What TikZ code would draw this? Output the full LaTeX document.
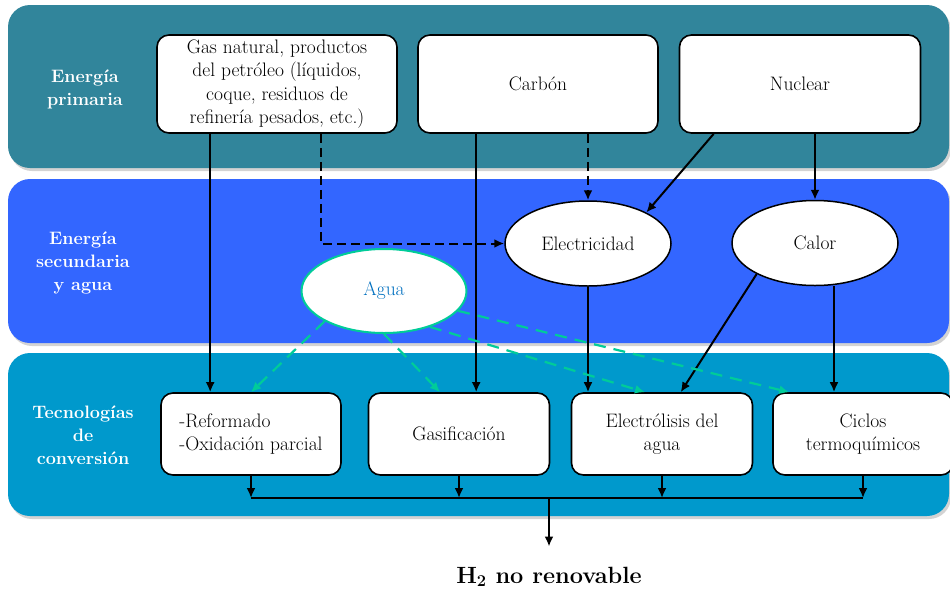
\documentclass[tikz,border=0pt]{standalone}
\usepackage{tikz}
\usetikzlibrary{arrows.meta}
\usetikzlibrary{shapes.geometric}
\usetikzlibrary{shadows}

\definecolor{primcol}{RGB}{49,133,155}
\definecolor{seccol}{RGB}{51,102,255}
\definecolor{teccol}{RGB}{0,153,204}
\definecolor{aguaverde}{RGB}{0,204,153}
\definecolor{aguatxt}{RGB}{0,112,192}

\tikzset{
  banda/.style={rounded corners=22pt, drop shadow={shadow xshift=2pt, shadow yshift=-3pt, opacity=0.35}},
  etiq/.style={text=white, align=center, font=\fontsize{18}{23}\selectfont\bfseries},
  caja/.style={draw, line width=1.6pt, rounded corners=12pt, fill=white, align=center, inner sep=2pt, font=\fontsize{19.5}{23.5}\selectfont},
  elipse/.style={ellipse, draw, line width=1.5pt, fill=white, inner sep=0pt, minimum width=166pt, minimum height=85pt, font=\fontsize{19.5}{23.5}\selectfont},
  flecha/.style={->, line width=2pt},
  discont/.style={flecha, dash pattern=on 9pt off 5pt},
  verde/.style={->, line width=2.2pt, draw=aguaverde, dash pattern=on 12pt off 8pt},
}

\begin{document}
\begin{tikzpicture}[x=1pt,y=-1pt,>={Latex[length=10pt,width=9pt]}]
                \clip (0,0) rectangle (950,590);
                %bandas
                \fill[primcol, banda] (8,5) rectangle (949,168);
                \fill[seccol, banda] (8,179) rectangle (949,343);
                \fill[teccol, banda] (8,353) rectangle (949,516);
                \node[etiq] (lblprim) at (85,89) {Energía\\primaria};
                \node[etiq] (lblsec) at (83,263) {Energía\\secundaria\\y agua};
                \node[etiq] (lbltec) at (83,435) {Tecnologías\\de\\conversión};
                %energia primaria
                \node[caja, minimum width=240pt, minimum height=98pt] (gas) at (277,84)
                    {Gas natural, productos\\del petróleo (líquidos,\\coque, residuos de\\refinería pesados, etc.)};
                \node[caja, minimum width=240pt, minimum height=98pt] (carbon) at (538,84) {Carbón};
                \node[caja, minimum width=241pt, minimum height=98pt] (nuclear) at (800,84) {Nuclear};
                %energia secundaria
                \node[elipse] (elec) at (588,243.5) {Electricidad};
                \node[elipse] (calor) at (815,243) {Calor};
                \node[elipse, draw=aguaverde, line width=2pt, minimum width=165pt, minimum height=84pt, text=aguatxt] (agua) at (384,291) {Agua};
                %tecnologias
                \node[caja, minimum width=180pt, minimum height=82pt, align=left] (refor) at (251,434) {-Reformado\\-Oxidación parcial};
                \node[caja, minimum width=181pt, minimum height=82pt] (gasif) at (459,434) {Gasificación};
                \node[caja, minimum width=181pt, minimum height=82pt] (electro) at (662,434) {Electrólisis del\\agua};
                \node[caja, minimum width=180pt, minimum height=82pt] (ciclos) at (863,434) {Ciclos\\termoquímicos};
                %flechas
                \draw[flecha] ([xshift=54pt]gas.south west) -- ([xshift=54pt]gas.south west |- refor.north);
                \draw[discont] ([xshift=-77pt]gas.south east) |- (elec.west);
                \draw[flecha] ([xshift=59pt]carbon.south west) -- ([xshift=59pt]carbon.south west |- gasif.north);
                \draw[discont] (elec.north |- carbon.south) -- (elec.north);
                \draw[flecha] ([xshift=35pt]nuclear.south west) -- (elec.28);
                \draw[flecha] (calor.north |- nuclear.south) -- (calor.north);
                \draw[flecha] (elec.south) -- (elec.south |- electro.north);
                \draw[flecha] (calor.208) -- ([xshift=110pt]electro.north west);
                \draw[flecha] ([xshift=19pt]calor.south) -- ([xshift=19pt]calor.south |- ciclos.north);
                %agua
                \draw[verde] (agua.207) -- (refor.north);
                \draw[verde] (agua.south) -- ([xshift=-19pt]gasif.north);
                \draw[verde] (agua.322) -- ([xshift=-17pt]electro.north);
                \draw[verde] (agua.345) -- ([xshift=17pt]ciclos.north west);
                %salida
                \coordinate (bus) at (549,498);
                \foreach \n in {refor,gasif,electro,ciclos}
                    \draw[flecha] (\n.south) -- (\n.south |- bus);
                \draw[line width=2pt] (refor.south |- bus) -- (ciclos.south |- bus);
                \node[anchor=base, inner sep=0pt, font=\fontsize{23.5}{26}\selectfont\bfseries] (h2) at (549,583) {H\textsubscript{2} no renovable};
                \draw[flecha] (bus) -- ([yshift=20pt]h2.north);
            \end{tikzpicture}
\end{document}
